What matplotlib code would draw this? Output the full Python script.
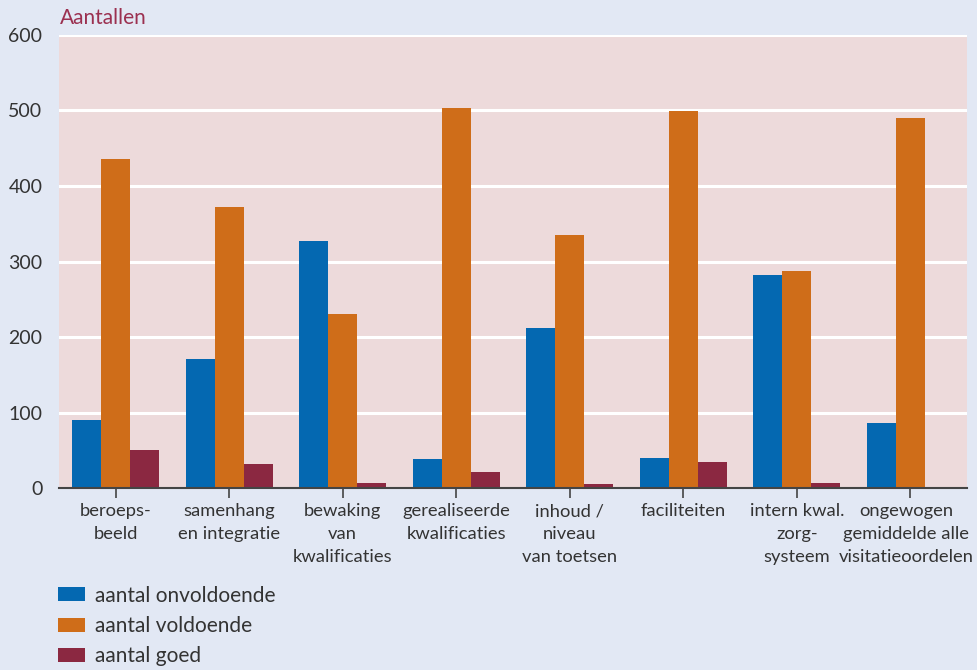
import numpy as np
import matplotlib
matplotlib.use("Agg")
import matplotlib.pyplot as plt
from matplotlib.transforms import ScaledTranslation

plt.rcParams["font.family"] = ["Lato", "DejaVu Sans"]

categories = [
    "beroeps-\nbeeld",
    "samenhang\nen integratie",
    "bewaking\nvan\nkwalificaties",
    "gerealiseerde\nkwalificaties",
    "inhoud /\nniveau\nvan toetsen",
    "faciliteiten",
    "intern kwal.\nzorg-\nsysteem",
    "ongewogen\ngemiddelde alle\nvisitatieoordelen",
]
onvoldoende = [90, 171, 327, 38, 212, 40, 282, 86]
voldoende = [436, 372, 230, 503, 335, 499, 287, 490]
goed = [50, 32, 7, 21, 5, 34, 7, 1]

series_labels = ["aantal onvoldoende", "aantal voldoende", "aantal goed"]
colors = ["#0468b1", "#cf6d19", "#8b2841"]

BG = "#e2e8f4"
PLOT_BG = "#eddadb"
TEXT = "#333333"

fig = plt.figure(figsize=(9.78, 6.70), dpi=100, facecolor=BG)
ax = fig.add_axes([0.0603, 0.2716, 0.9285, 0.6762])
ax.set_facecolor(PLOT_BG)

x = np.arange(len(categories))
w = 0.256
bars = []
for i, (vals, col, lab) in enumerate(zip([onvoldoende, voldoende, goed], colors, series_labels)):
    b = ax.bar(x + (i - 1) * w, vals, width=w, color=col, label=lab, zorder=3)
    bars.append(b)

ax.set_xlim(-0.5, len(categories) - 0.5)
ax.set_ylim(0, 600)
ax.set_yticks(range(0, 601, 100))
ax.yaxis.grid(True, color="white", linewidth=2.2, zorder=1)
ax.set_axisbelow(True)

for s in ["top", "right", "left"]:
    ax.spines[s].set_visible(False)
ax.spines["bottom"].set_color("#444444")
ax.spines["bottom"].set_linewidth(1.5)
ax.spines["bottom"].set_zorder(4)

ax.set_xticks(x)
ax.set_xticklabels(categories, fontsize=13.2, color=TEXT, linespacing=1.52)
ax.tick_params(axis="x", length=7, width=1.2, color="#444444", pad=4)
ax.tick_params(axis="y", length=0, labelsize=14, labelcolor=TEXT, pad=12)

# last label sits against the right edge, nudge it left a little
last = ax.get_xticklabels()[-1]
last.set_transform(last.get_transform() + ScaledTranslation(-3 / 72, 0, fig.dpi_scale_trans))

fig.text(0.0613, 0.958, "Aantallen", fontsize=15, color="#9b3050", ha="left", va="bottom")

fig.legend(
    handles=bars, labels=series_labels,
    loc="upper left", bbox_to_anchor=(0.0593, 0.126),
    frameon=False, fontsize=15, labelcolor=TEXT, borderpad=0, borderaxespad=0,
    handlelength=1.3, handleheight=0.65, handletextpad=0.5, labelspacing=0.5,
    bbox_transform=fig.transFigure,
)

fig.savefig("out.png", dpi=100, facecolor=BG)
